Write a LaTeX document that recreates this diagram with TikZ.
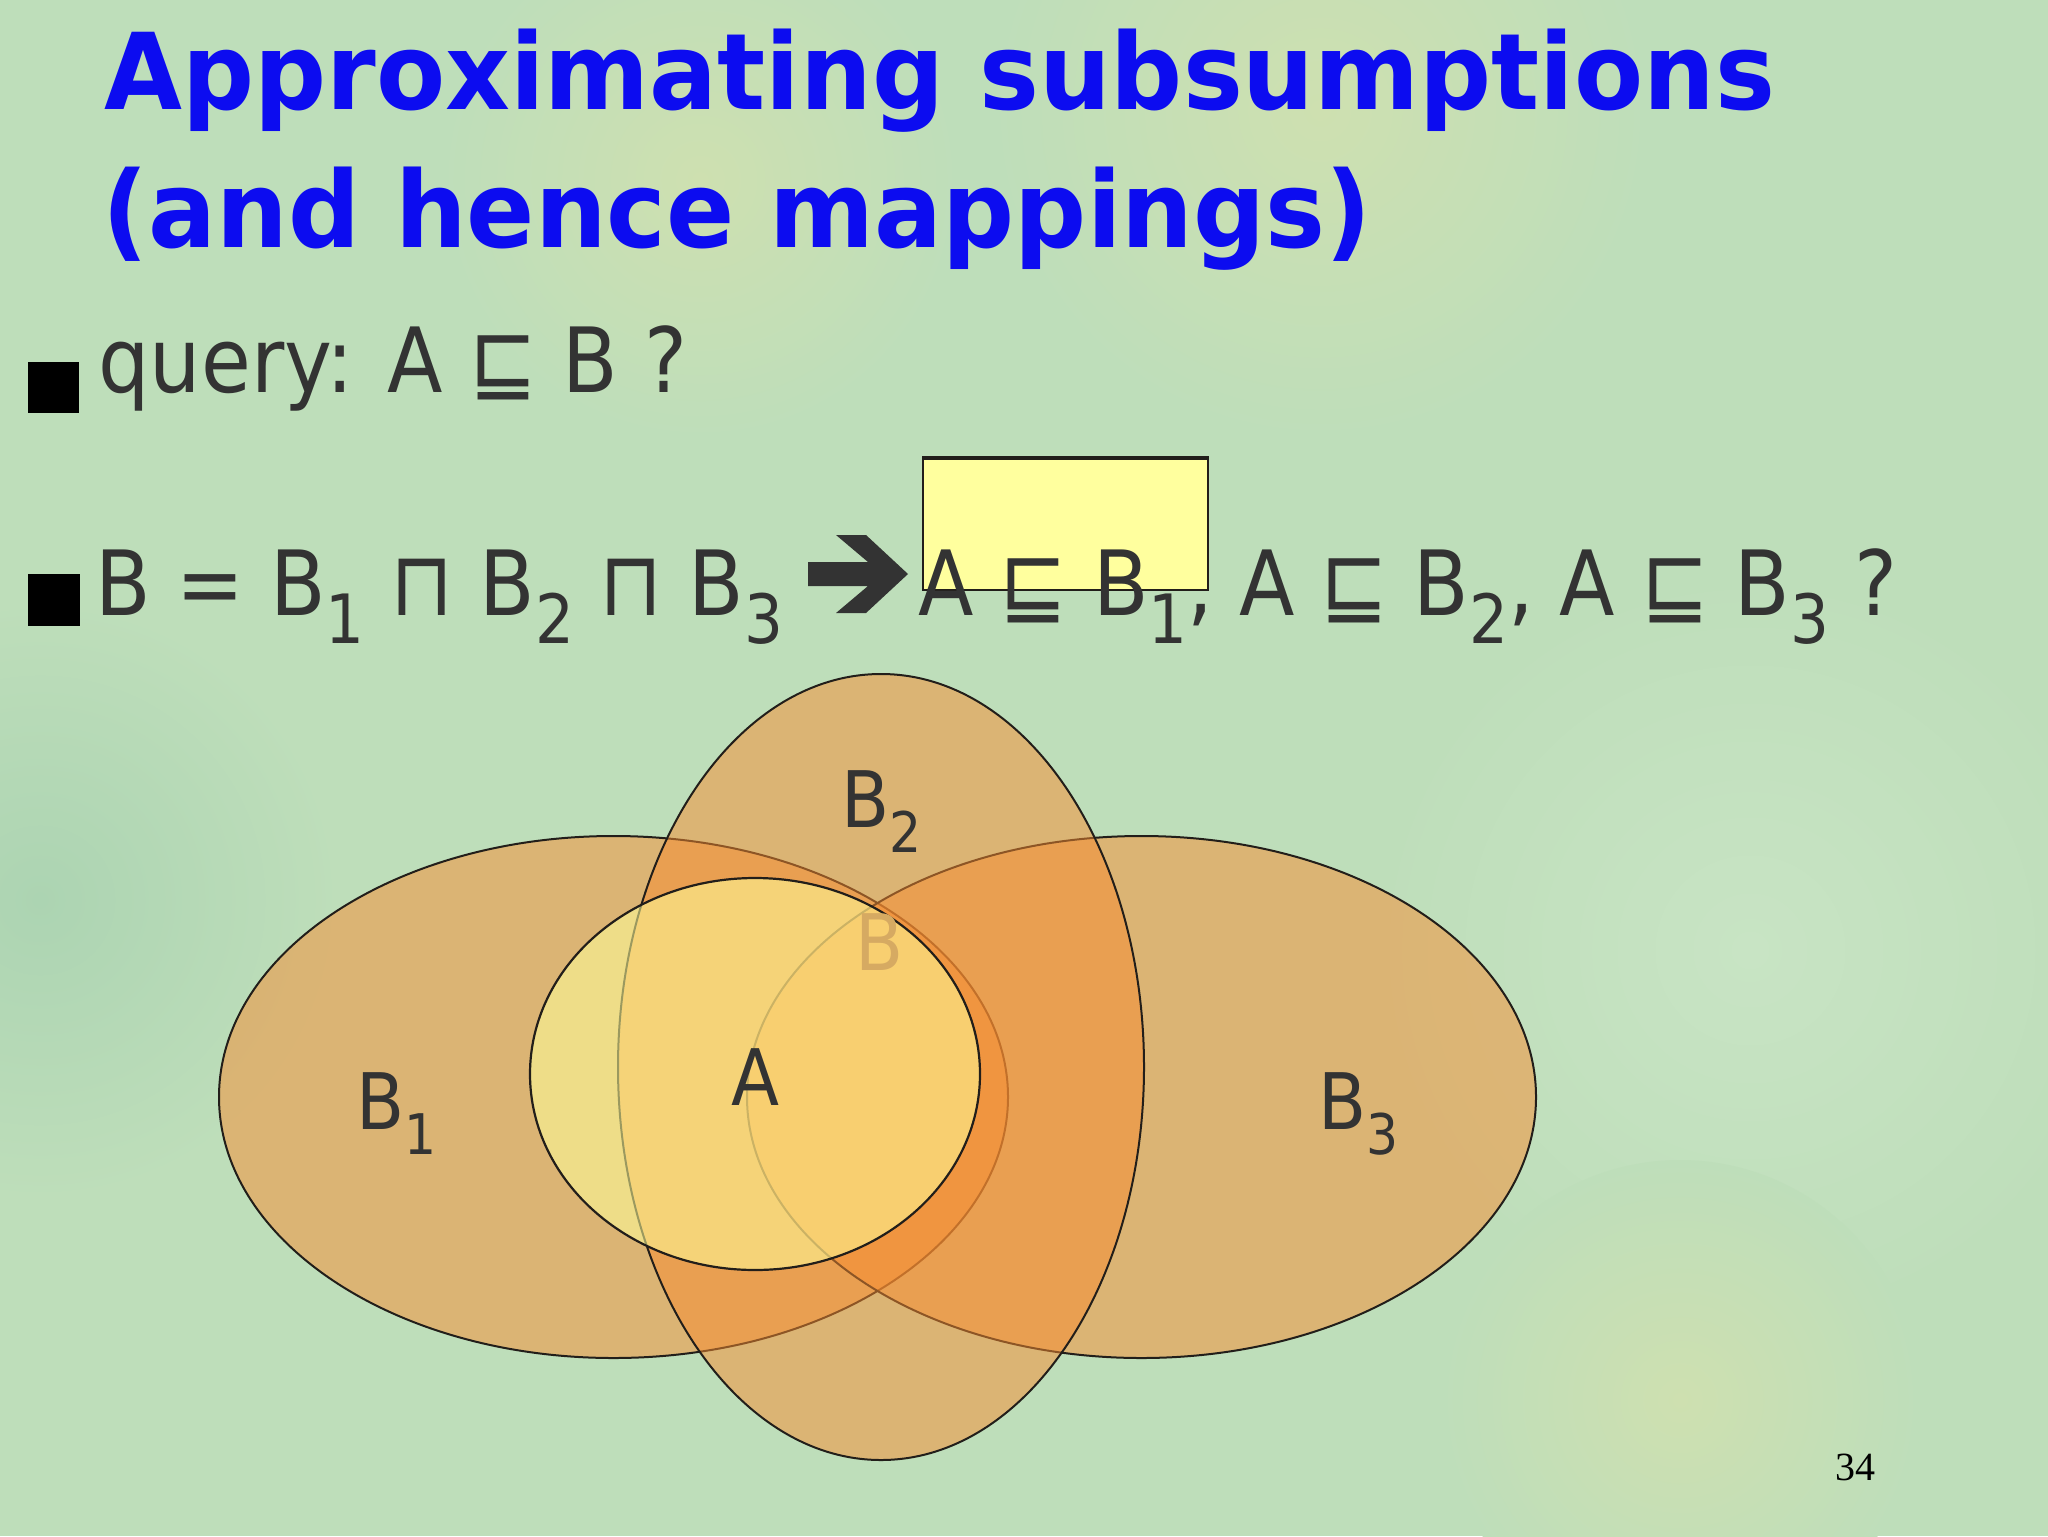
\documentclass[tikz,border=0pt]{standalone}
\usepackage{fontspec}
\setmainfont[FakeStretch=0.9]{DejaVu Sans}
\newfontfamily\titlefam[FakeStretch=0.95]{DejaVu Sans}
\newfontfamily\serifnum{Liberation Serif}
\definecolor{bg}{RGB}{190,222,186}
\definecolor{bgyel}{RGB}{206,224,176}
\definecolor{bgdeep}{RGB}{172,212,178}
\definecolor{bglight}{RGB}{200,228,196}
\definecolor{txt}{RGB}{51,51,51}
\definecolor{ttl}{RGB}{12,12,240}
\definecolor{bfill}{RGB}{248,140,48}
\definecolor{afill}{RGB}{255,255,153}
\definecolor{boxfill}{RGB}{255,255,158}
\definecolor{fadeB}{RGB}{214,170,98}
\definecolor{outl}{RGB}{34,30,26}
\newcommand{\bsub}[1]{\raisebox{-14pt}{\fontsize{34}{34}\selectfont #1}}
\newcommand{\lsub}[1]{\raisebox{-12.5pt}{\fontsize{28}{28}\selectfont #1}}
\tikzset{
  vennB/.style={fill=bfill, fill opacity=0.5, draw=outl, line width=1pt},
  vennA/.style={fill=afill, fill opacity=0.55, draw=outl, line width=1.1pt},
  titletext/.style={anchor=base west, inner sep=0pt, text=ttl, font=\titlefam\bfseries\fontsize{53}{60}\selectfont},
  bodytext/.style={anchor=base west, inner sep=0pt, text=txt, font=\fontsize{45}{50}\selectfont},
  labeltext/.style={anchor=base west, inner sep=0pt, text=txt, font=\fontsize{39}{44}\selectfont},
  bulletsq/.style={fill=black},
}
\begin{document}
\begin{tikzpicture}[x=0.5pt,y=-0.5pt]
\useasboundingbox (0,0) rectangle (2048,1536);
% background
\fill[bg] (0,0) rectangle (2048,1536);
\shade[inner color=bgyel, outer color=bg] (1320,110) circle (330);
\shade[inner color=bgdeep, outer color=bg] (40,900) circle (300);
\shade[inner color=bglight, outer color=bg] (1750,950) circle (380);
\shade[inner color=bgyel, outer color=bg] (1680,1400) circle (240);
\shade[inner color=bgyel, outer color=bg] (700,180) circle (260);

% title
\node[titletext] (t1) at (104,110) {Approximating subsumptions};
\node[titletext] (t2) at (102,247) {(and hence mappings)};

% bullets
\fill[bulletsq] (28,362) rectangle (79,413);
\fill[bulletsq] (28,574) rectangle (80,626);

% yellow box
\node[draw=outl, line width=1pt, fill=boxfill, minimum width=142.5pt, minimum height=65.5pt, inner sep=0pt] (box) at (1065.5,524.5) {};
\draw[outl, line width=2pt] (box.north west) -- (box.north east);

% line 1
\node[bodytext] (q) at (98,392) {query: A ⊑ B ?};
% line 2
\node[bodytext] (l2a) at (95,615) {B = B\bsub{1} ⊓ B\bsub{2} ⊓ B\bsub{3}};
\node[bodytext] (l2b) at (918,615) {A ⊑ B\bsub{1}, A ⊑ B\bsub{2}, A ⊑ B\bsub{3} ?};
% heavy arrow
\fill[txt] (808,562) -- (868,562) -- (836,535) -- (866,535) -- (908,574)
  -- (866,613) -- (836,613) -- (868,586) -- (808,586) -- cycle;

% Venn shapes
\path[vennB] (613.5,1097) ellipse [x radius=394.5, y radius=261];
\path[vennB] (1141.5,1097) ellipse [x radius=394.5, y radius=261];
\path[vennB] (881,1067) ellipse [x radius=263, y radius=393];
\path[vennA] (755,1074) ellipse [x radius=225, y radius=196];

% labels
\node[labeltext] (lB2) at (841,827) {B\lsub{2}};
\node[labeltext, text=fadeB] (lB) at (855,970) {B};
\node[labeltext] (lA) at (731,1105) {A};
\node[labeltext] (lB1) at (356,1129) {B\lsub{1}};
\node[labeltext] (lB3) at (1318,1129) {B\lsub{3}};

% page number
\node[anchor=base west, inner sep=0pt, text=black, font=\serifnum\fontsize{20}{20}\selectfont] (pg) at (1835,1480) {34};
\end{tikzpicture}
\end{document}
